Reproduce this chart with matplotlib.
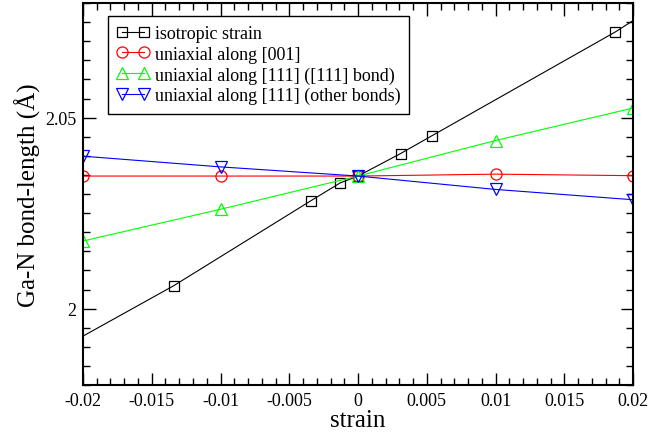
import matplotlib
matplotlib.use("Agg")
import matplotlib.pyplot as plt
from matplotlib.ticker import MultipleLocator

plt.rcParams['font.family'] = ['Liberation Serif', 'DejaVu Serif']
plt.rcParams['mathtext.fontset'] = 'stix'

# isotropic strain (points outside the x range are clipped, like the original)
iso_x = [-0.0245, -0.0134, -0.0034, -0.0013, 0.0, 0.0031, 0.0054, 0.0187, 0.0245]
iso_y = [1.9838, 2.0060, 2.0283, 2.0329, 2.0347, 2.0406, 2.0453, 2.0724, 2.0857]

uni_x = [-0.02, -0.01, 0.0, 0.01, 0.02]
u001_y = [2.0347, 2.0347, 2.0347, 2.0352, 2.0348]
u111_bond_y = [2.0177, 2.0260, 2.0347, 2.0440, 2.0525]
u111_other_y = [2.0399, 2.0371, 2.0347, 2.0312, 2.0285]

fig = plt.figure(figsize=(6.72, 4.35), dpi=100)
ax = fig.add_axes([0.1235, 0.1126, 0.8185, 0.8782])

lw = 0.8
ms = 8
ax.plot(iso_x, iso_y, color="black", lw=lw, marker="s", ms=7, mfc="none", mew=0.9,
        label="isotropic strain")
ax.plot(uni_x, u001_y, color="#ff0000", lw=lw, marker="o", ms=ms, mfc="none", mew=0.9,
        label="uniaxial along [001]")
ax.plot(uni_x, u111_bond_y, color="#00ff00", lw=lw, marker="^", ms=ms, mfc="none", mew=0.9,
        label="uniaxial along [111] ([111] bond)")
ax.plot(uni_x, u111_other_y, color="#0000ff", lw=lw, marker="v", ms=ms, mfc="none", mew=0.9,
        label="uniaxial along [111] (other bonds)")

ax.set_xlim(-0.02, 0.02)
ax.set_ylim(1.98, 2.08)
ax.xaxis.set_major_locator(MultipleLocator(0.005))
ax.xaxis.set_minor_locator(MultipleLocator(0.001))
ax.yaxis.set_major_locator(MultipleLocator(0.05))
ax.yaxis.set_minor_locator(MultipleLocator(0.005))
ax.set_xticks([-0.02, -0.015, -0.01, -0.005, 0, 0.005, 0.01, 0.015, 0.02])
ax.set_xticklabels(["-0.02", "-0.015", "-0.01", "-0.005", "0", "0.005", "0.01", "0.015", "0.02"])
ax.set_yticks([2.0, 2.05])
ax.set_yticklabels(["2", "2.05"])

ax.tick_params(which="both", direction="in", top=True, right=True, labelsize=13, width=1)
ax.tick_params(which="major", length=9)
ax.tick_params(which="minor", length=5)
ax.tick_params(axis="x", pad=5)
ax.tick_params(axis="y", pad=5)
for s in ax.spines.values():
    s.set_linewidth(1.5)

ax.set_xlabel("strain", fontsize=18, labelpad=0)
ax.set_ylabel("Ga-N bond-length (Å)", fontsize=18, labelpad=3)

leg = ax.legend(loc="upper left", bbox_to_anchor=(0.045, 0.966), borderaxespad=0,
                numpoints=2, fontsize=13, handlelength=1.8, handletextpad=0.3,
                borderpad=0.5, labelspacing=0.2,
                fancybox=False, edgecolor="black", framealpha=1)
leg.get_frame().set_linewidth(1.0)

fig.savefig("out.png", dpi=100)
